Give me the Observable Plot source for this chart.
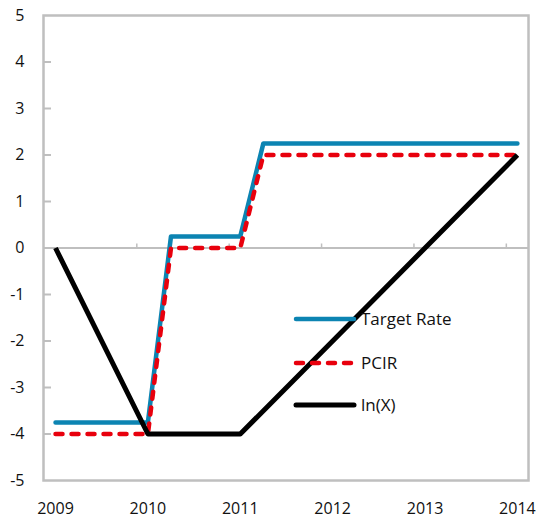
<!DOCTYPE html>
<html><head><meta charset="utf-8">
<script src="https://cdn.jsdelivr.net/npm/d3@7"></script>
<script src="https://cdn.jsdelivr.net/npm/@observablehq/plot@0.6"></script>
<style>
body{margin:0;background:#fff;}
#wrap{position:relative;width:537px;height:520px;font-family:"Open Sans",sans-serif;}
#legend{position:absolute;left:0;top:0;pointer-events:none;}
</style></head><body><div id="wrap"></div>
<script>
// ---- data ----
const targetYears = [2009, 2010, 2010.25, 2011, 2011.25, 2014];
const targetRate  = [-3.75, -3.75, 0.25, 0.25, 2.25, 2.25];
const pcirYears   = [2009, 2010, 2010.25, 2011, 2011.25, 2014];
const pcirValues  = [-4, -4, 0, 0, 2, 2];
const lnYears     = [2009, 2010, 2011, 2014];
const lnValues    = [0, -4, -4, 2];
const yearLabels  = [2009, 2010, 2011, 2012, 2013, 2014];
const yTickValues = [-5, -4, -3, -2, -1, 0, 1, 2, 3, 4, 5];
const zeroTickYears = [2009.88, 2010.88, 2011.88, 2012.88, 2013.88];
const seriesNames = ["Target Rate", "PCIR", "ln(X)"];

const W = 537, H = 520;
const mL = 43, mR = 9, mT = 15, mB = 40;
const xDomain = [2008.87, 2014.12];
const yDomain = [-5, 5];
const pxPerYear = (W - mL - mR) / (xDomain[1] - xDomain[0]);
const pxPerUnit = (H - mT - mB) / (yDomain[1] - yDomain[0]);

const target = targetYears.map((x, i) => ({x, y: targetRate[i]}));
const pcir = pcirYears.map((x, i) => ({x, y: pcirValues[i]}));
const ln = lnYears.map((x, i) => ({x, y: lnValues[i]}));

const blue = "#0C84B2", red = "#E8000D", black = "#000000", grid = "#BFBFBF";
const textColor = "#111111";

const chart = Plot.plot({
  width: W, height: H,
  marginLeft: mL, marginRight: mR, marginTop: mT, marginBottom: mB,
  x: {domain: xDomain},
  y: {domain: yDomain},
  style: {fontFamily: '"Open Sans", sans-serif', fontSize: "16px", color: textColor, background: "white"},
  marks: [
    Plot.ruleY([0], {stroke: grid, strokeWidth: 2}),
    Plot.ruleX(zeroTickYears, {y1: 0, y2: 4 / pxPerUnit, stroke: grid, strokeWidth: 1.5}),
    Plot.ruleY(yTickValues.filter(v => v !== 5 && v !== -5 && v !== 0), {x1: xDomain[0], x2: xDomain[0] + 8 / pxPerYear, stroke: grid, strokeWidth: 2}),
    Plot.frame({stroke: grid, strokeWidth: 2.5}),
    Plot.axisY(yTickValues, {tickSize: 0, tickPadding: 19, tickFormat: d => String(d), fontSize: 16, label: null}),
    Plot.axisX(yearLabels, {tickSize: 0, tickPadding: 22, tickFormat: d => String(d), fontSize: 16, label: null}),
    Plot.line(target, {x: "x", y: "y", stroke: blue, strokeWidth: 4.5, strokeLinejoin: "round", strokeLinecap: "round"}),
    Plot.line(pcir, {x: "x", y: "y", stroke: red, strokeWidth: 4.5, strokeDasharray: "7,9", strokeLinejoin: "round", strokeLinecap: "round"}),
    Plot.line(ln, {x: "x", y: "y", stroke: black, strokeWidth: 5, strokeLinejoin: "round", strokeLinecap: "butt"})
  ]
});
const wrap = document.getElementById("wrap");
wrap.appendChild(chart);

// legend overlay
const ns = "http://www.w3.org/2000/svg";
const lg = document.createElementNS(ns, "svg");
lg.setAttribute("id", "legend");
lg.setAttribute("width", W); lg.setAttribute("height", H);
const rows = [
  {name: seriesNames[0], color: blue, dash: null, w: 4.5, cap: "round", y: 319},
  {name: seriesNames[1], color: red, dash: "7,9", w: 4.5, cap: "round", y: 363},
  {name: seriesNames[2], color: black, dash: null, w: 5, cap: "round", y: 405}
];
rows.forEach(r => {
  const l = document.createElementNS(ns, "line");
  l.setAttribute("x1", 296); l.setAttribute("x2", 354);
  l.setAttribute("y1", r.y); l.setAttribute("y2", r.y);
  l.setAttribute("stroke", r.color); l.setAttribute("stroke-width", r.w);
  l.setAttribute("stroke-linecap", r.cap);
  if (r.dash) l.setAttribute("stroke-dasharray", r.dash);
  lg.appendChild(l);
  const t = document.createElementNS(ns, "text");
  t.setAttribute("x", 361); t.setAttribute("y", r.y);
  t.setAttribute("dy", "0.35em");
  t.setAttribute("font-family", '"Open Sans", sans-serif');
  t.setAttribute("font-size", "17");
  t.setAttribute("fill", textColor);
  t.textContent = r.name;
  lg.appendChild(t);
});
wrap.appendChild(lg);
</script>
</body></html>
